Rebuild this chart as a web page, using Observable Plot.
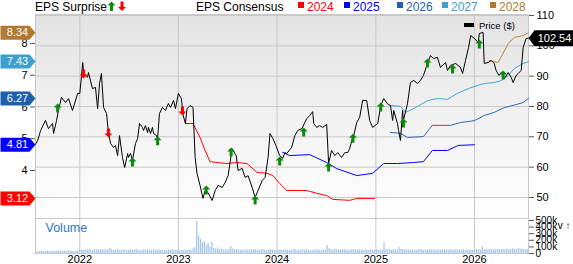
<!DOCTYPE html>
<html><head><meta charset="utf-8">
<script src="https://cdn.jsdelivr.net/npm/d3@7"></script>
<script src="https://cdn.jsdelivr.net/npm/@observablehq/plot@0.6"></script>
<style>
body{margin:0;background:#fff;font-family:"Liberation Sans",Arial,sans-serif;}
#wrap{position:relative;width:573px;height:264px;overflow:hidden;}
#main,#vol{position:absolute;left:0;}
#main{top:0}#vol{top:218px}
.hd{position:absolute;font-size:12px;line-height:14px;white-space:nowrap;top:0;}
.sq{position:absolute;width:6px;height:6px;top:2px;}
</style></head><body>
<div id="wrap">
<div id="main"></div><div id="vol"></div>
<div class="hd" style="left:35px;color:#000">EPS Surprise</div>
<svg style="position:absolute;left:107px;top:1px" width="20" height="11">
 <path d="M4.5,0.5 L8.5,4.5 L6,4.5 L6,10 L3,10 L3,4.5 L0.5,4.5Z" fill="#0a8a0a"/>
 <path d="M15,10 L19,6 L16.5,6 L16.5,0.5 L13.5,0.5 L13.5,6 L11,6Z" fill="#ff0000"/>
</svg>
<div class="hd" style="left:196px;color:#000">EPS Consensus</div>
<div id="legend"></div>
<div style="position:absolute;left:464px;top:23px;width:10px;height:4px;background:#000"></div>
<div style="position:absolute;left:479px;top:20px;font-size:9.5px;line-height:11px;color:#000">Price ($)</div>
</div>
<script>
// ---------- data ----------
const years = ["2022-01-01","2023-01-01","2024-01-01","2025-01-01","2026-01-01"];
const yearLabels = ["2022","2023","2024","2025","2026"];
const priceTicks = [50,60,70,80,90,100,110];
const epsTicks = [4,5,6,7,8];
const volTicks = [0,100000,200000,300000,400000,500000];

const price = [
["2021-07-21",67.5],["2021-07-29",68.8],["2021-08-09",72.1],["2021-08-27",75.4],["2021-09-07",72.7],["2021-09-22",74.4],["2021-09-26",71.1],["2021-10-07",75.4],["2021-10-14",78.7],["2021-10-25",83.0],["2021-11-09",81.3],["2021-11-20",82.6],["2021-12-05",78.7],["2021-12-24",84.3],
["2022-01-01",84.3],["2022-01-12",94.5],["2022-01-15",90.9],["2022-01-30",89.6],["2022-02-02",91.2],["2022-02-17",85.9],["2022-02-28",86.3],["2022-03-08",79.3],["2022-03-15",87.6],["2022-03-22",90.9],["2022-03-30",79.7],["2022-04-10",77.7],["2022-04-17",71.4],["2022-04-25",67.8],["2022-05-06",66.5],["2022-05-13",67.1],["2022-05-21",63.8],["2022-05-28",70.4],["2022-06-08",63.2],["2022-06-16",59.9],["2022-06-27",64.5],["2022-06-30",63.2],["2022-07-08",64.5],["2022-07-15",62.2],["2022-07-26",67.8],["2022-08-03",69.4],["2022-08-10",74.4],["2022-08-21",73.1],["2022-08-25",72.1],["2022-09-01",73.7],["2022-09-09",71.4],["2022-09-12",73.1],["2022-09-20",71.1],["2022-09-27",73.1],["2022-10-01",71.1],["2022-10-12",70.4],["2022-10-16",69.4],["2022-10-23",77.7],["2022-11-03",79.7],["2022-11-14",78.7],["2022-11-25",81.0],["2022-12-03",79.7],["2022-12-14",82.0],["2022-12-21",79.3],
["2023-01-01",84.3],["2023-01-12",82.6],["2023-01-19",77.0],["2023-01-27",74.4],["2023-02-02",79.3],["2023-02-13",80.3],["2023-02-24",79.7],["2023-03-04",63.2],["2023-03-11",57.9],["2023-03-22",54.0],["2023-04-02",49.7],["2023-04-10",52.3],["2023-04-21",51.6],["2023-05-06",49.0],["2023-05-17",52.3],["2023-05-28",54.0],["2023-06-12",53.3],["2023-06-23",54.9],["2023-07-04",57.2],["2023-07-19",66.1],["2023-07-22",65.5],["2023-08-03",63.8],["2023-08-10",58.9],["2023-08-25",59.6],["2023-09-05",56.6],["2023-09-16",57.2],["2023-10-01",53.3],["2023-10-12",50.0],["2023-10-23",52.3],["2023-11-07",55.6],["2023-11-18",56.6],["2023-11-29",63.2],["2023-12-06",71.1],["2023-12-17",69.4],["2023-12-28",67.1],
["2024-01-11",63.8],["2024-01-22",62.9],["2024-01-30",64.8],["2024-02-06",64.5],["2024-02-24",66.5],["2024-03-07",70.4],["2024-03-18",72.1],["2024-04-02",72.7],["2024-04-13",74.7],["2024-04-20",76.0],["2024-05-01",77.0],["2024-05-12",78.3],["2024-05-16",74.4],["2024-05-27",73.1],["2024-06-07",73.7],["2024-06-18",73.1],["2024-07-03",74.1],["2024-07-10",61.2],["2024-07-21",65.5],["2024-08-02",63.8],["2024-08-13",64.8],["2024-08-27",63.2],["2024-09-08",64.8],["2024-09-19",64.8],["2024-09-26",66.1],["2024-10-04",68.8],["2024-10-11",70.4],["2024-10-22",74.7],["2024-11-02",76.4],["2024-11-13",82.0],["2024-11-28",82.0],["2024-12-09",75.4],["2024-12-20",73.1],
["2025-01-08",74.4],["2025-01-19",80.3],["2025-01-30",82.6],["2025-02-13",80.9],["2025-02-24",80.3],["2025-03-04",75.4],["2025-03-08",78.7],["2025-03-22",74.4],["2025-03-26",72.1],["2025-04-02",68.8],["2025-04-10",78.7],["2025-04-13",75.4],["2025-04-28",80.9],["2025-05-09",87.9],["2025-05-21",88.6],["2025-06-04",87.6],["2025-06-15",88.6],["2025-06-26",90.2],["2025-07-11",94.2],["2025-07-22",96.8],["2025-08-02",95.8],["2025-08-17",96.2],["2025-08-28",92.9],["2025-09-16",94.5],["2025-09-23",91.9],["2025-10-04",93.5],["2025-10-23",94.2],["2025-11-10",92.9],["2025-11-18",90.9],["2025-11-29",95.2],["2025-12-10",99.4],["2025-12-18",103.4],
["2026-01-01",102.4],["2026-01-15",101.1],["2026-01-19",104.1],["2026-02-02",104.4],["2026-02-06",94.2],["2026-02-21",94.5],["2026-03-04",95.2],["2026-03-15",94.2],["2026-03-22",91.9],["2026-04-02",90.2],["2026-04-10",91.2],["2026-04-21",89.2],["2026-05-06",91.2],["2026-05-17",89.6],["2026-05-24",87.9],["2026-06-04",90.2],["2026-06-12",90.9],["2026-06-23",91.9],["2026-06-30",99.4],["2026-07-11",102.4],["2026-07-20",102.54]
];

const eps2024 = [["2023-01-27",5.48],["2023-02-24",5.48],["2023-03-22",5.04],["2023-04-10",4.63],["2023-04-28",4.28],["2023-05-24",4.25],["2023-06-30",4.22],["2023-08-06",4.25],["2023-09-12",4.22],["2023-10-19",3.94],["2023-11-25",3.91],["2023-12-17",3.84],["2024-01-11",3.59],["2024-02-06",3.37],["2024-03-14",3.37],["2024-04-20",3.37],["2024-05-27",3.28],["2024-07-03",3.21],["2024-07-25",3.09],["2024-09-26",3.06],["2024-10-22",3.12],["2024-12-28",3.12]];
const eps2025 = [["2024-01-22",4.57],["2024-02-17",4.47],["2024-05-01",4.50],["2024-07-03",4.25],["2024-08-09",4.06],["2024-10-22",3.84],["2024-12-20",3.91],["2025-01-30",4.22],["2025-03-22",4.22],["2025-05-21",4.25],["2025-06-26",4.28],["2025-07-29",4.63],["2025-09-23",4.63],["2025-11-02",4.79],["2026-01-01",4.81]];
const eps2026 = [["2025-02-24",5.20],["2025-04-02",5.17],["2025-04-28",5.04],["2025-06-26",5.07],["2025-07-29",5.42],["2025-10-04",5.42],["2025-11-10",5.51],["2026-01-01",5.57],["2026-02-06",5.73],["2026-03-15",5.83],["2026-04-21",5.98],["2026-05-24",6.05],["2026-06-30",6.14],["2026-07-20",6.27]];
const eps2027 = [["2025-02-24",6.05],["2025-04-02",6.02],["2025-04-21",5.83],["2025-05-21",5.95],["2025-07-11",6.20],["2025-08-17",6.27],["2025-09-23",6.24],["2025-10-30",6.43],["2025-12-18",6.61],["2026-02-06",6.74],["2026-03-15",6.77],["2026-04-10",6.83],["2026-05-06",6.99],["2026-05-28",7.21],["2026-06-30",7.37],["2026-07-20",7.43]];
const eps2028 = [["2026-02-25",7.46],["2026-03-29",7.40],["2026-04-17",7.69],["2026-05-06",8.00],["2026-05-28",8.19],["2026-06-30",8.25],["2026-07-20",8.34]];

const seriesNames = ["2024","2025","2026","2027","2028"];
const seriesColors = ["#ff0000","#0000ff","#2d6ab4","#45a6d8","#b8843c"];
const labelColors = ["#ff0000","#0000ff","#1f5fad","#3aa0d0","#b07a30"];
const labelValues = [3.12,4.81,6.27,7.43,8.34];
const lastPrice = 102.54;

// surprise arrows: [date, price level, 1=beat (up), -1=miss (down)]
const surprises = [["2021-10-11",79.3,1],["2022-01-15",90.9,-1],["2022-04-17",71.4,-1],["2022-07-15",61.5,1],["2022-10-16",68.5,1],["2023-01-16",78.7,-1],["2023-04-14",52.3,1],["2023-07-15",64.8,1],["2023-10-12",49.0,1],["2024-01-11",61.9,1],["2024-04-09",71.4,1],["2024-07-10",59.9,1],["2024-10-08",69.4,1],["2025-01-19",79.7,1],["2025-04-13",74.4,1],["2025-07-11",94.2,1],["2025-10-12",92.2,1],["2026-01-19",100.4,1],["2026-04-17",90.2,1]];

// weekly volume (thousands), from week of 2021-07-23
const volStart = "2021-07-23";
const volume = [
32,28,35,30,27,33,38,30,29,34,31,36,40,33,30,37,35,42,38,34,31,29,36,45,
48,52,45,55,60,50,47,58,53,49,62,55,51,48,57,78,60,52,49,55,46,50,58,52,47,44,56,49,53,60,51,47,45,52,48,55,50,46,53,49,58,51,47,44,50,46,52,48,55,43,47,40,
42,45,40,55,48,52,46,70,90,485,270,210,160,180,120,150,95,165,80,70,85,60,65,55,58,50,62,105,70,55,60,52,48,55,50,47,58,52,49,60,55,50,53,48,62,50,45,55,58,50,46,40,
50,55,48,52,58,45,50,47,53,60,49,46,52,55,48,62,50,47,45,52,49,55,46,50,48,53,120,75,58,52,60,55,48,50,62,58,52,47,50,55,60,53,49,57,51,48,55,50,46,52,48,44,
55,50,52,48,165,58,62,55,50,60,52,55,90,62,58,55,50,52,48,55,50,47,53,60,55,50,52,48,55,58,50,53,49,55,52,58,50,53,48,55,52,50,53,57,49,52,55,50,48,53,50,46,
55,60,58,52,105,62,58,55,60,57,52,55,65,58,62,55,60,68,58,62,70,65,60,72,68,70,62,58,55
];

// ---------- build ----------
const P = d => new Date(d);
const xDomain = [P("2021-07-21"), P("2026-07-20")];
// the EPS axis (left) and price axis (right) share the vertical: eps 8 <-> price 100.77, eps 4 <-> price 58.90
const epsToPrice = v => 58.90 + (v - 4) * (100.77 - 58.90) / 4;
const priceToEps = p => 4 + (p - 58.90) * 4 / (100.77 - 58.90);

const FONT = "Liberation Sans, Arial, sans-serif";
const tagRight = {draw(c){c.moveTo(-35,-7);c.lineTo(-6,-7);c.lineTo(0,0);c.lineTo(-6,7);c.lineTo(-35,7);c.closePath();}};
const tagLeft = {draw(c){c.moveTo(0,0);c.lineTo(6,-8);c.lineTo(46,-8);c.lineTo(46,8);c.lineTo(6,8);c.closePath();}};
const arrowUp = {draw(c){c.moveTo(0,-5);c.lineTo(4,-1);c.lineTo(1.5,-1);c.lineTo(1.5,4);c.lineTo(-1.5,4);c.lineTo(-1.5,-1);c.lineTo(-4,-1);c.closePath();}};
const arrowDown = {draw(c){c.moveTo(0,5);c.lineTo(4,1);c.lineTo(1.5,1);c.lineTo(1.5,-4);c.lineTo(-1.5,-4);c.lineTo(-1.5,1);c.lineTo(-4,1);c.closePath();}};

const epsSeries = [eps2024,eps2025,eps2026,eps2027,eps2028];
const yearDates = years.map(P);

const main = Plot.plot({
  width: 573, height: 218,
  marginTop: 14, marginBottom: 0, marginLeft: 35, marginRight: 45,
  style: {fontFamily: FONT, fontSize: "11px", background: "transparent", overflow: "visible", color: "#000"},
  x: {type: "utc", domain: xDomain, axis: null},
  y: {domain: [43.07, 110.33], axis: null},
  marks: [
    Plot.gridY(priceTicks, {stroke: "#c8c8c8", strokeOpacity: 1}),
    Plot.gridX(yearDates, {stroke: "#c8c8c8", strokeOpacity: 1}),
    Plot.frame({stroke: "#c8c8c8"}),
    ...epsSeries.map((s, i) => Plot.line(s, {x: d => P(d[0]), y: d => epsToPrice(d[1]), stroke: seriesColors[i], strokeWidth: 1})),
    Plot.line(price, {x: d => P(d[0]), y: d => d[1], stroke: "#000", strokeWidth: 1}),
    Plot.dot(surprises.filter(d => d[2] > 0), {x: d => P(d[0]), y: d => d[1], symbol: arrowUp, fill: "#0a8a0a", stroke: null, r: 4}),
    Plot.dot(surprises.filter(d => d[2] < 0), {x: d => P(d[0]), y: d => d[1], symbol: arrowDown, fill: "#ff0000", stroke: null, r: 4}),
    Plot.axisY(priceTicks, {anchor: "right", tickSize: 5, tickPadding: 3, stroke: "#555", fontSize: 11}),
    Plot.axisY(epsTicks.map(epsToPrice), {anchor: "left", tickSize: 5, tickPadding: 3, stroke: "#555", fontSize: 11, tickFormat: p => String(Math.round(priceToEps(p)))}),
    ...labelValues.map((v, i) => Plot.dot([v], {frameAnchor: "left", y: d => epsToPrice(d), symbol: tagRight, fill: labelColors[i], stroke: null, r: 5})),
    ...labelValues.map((v, i) => Plot.text([v], {frameAnchor: "left", y: d => epsToPrice(d), text: d => d.toFixed(2), dx: -18, textAnchor: "middle", fill: "#fff", fontSize: 11})),
    Plot.dot([lastPrice], {frameAnchor: "right", y: d => d, symbol: tagLeft, fill: "#000", stroke: null, r: 5}),
    Plot.text([lastPrice], {frameAnchor: "right", y: d => d, text: d => d.toFixed(2), dx: 26, textAnchor: "middle", fill: "#fff", fontSize: 11})
  ]
});

// gradient background behind the price panel
(function(){
  const svg = d3.select(main);
  const xr = main.scale("x").range, yr = main.scale("y").range;
  const defs = svg.insert("defs", ":first-child");
  const g = defs.append("linearGradient").attr("id", "bgGrad").attr("x1", 0).attr("y1", 0).attr("x2", 0).attr("y2", 1);
  g.append("stop").attr("offset", 0).attr("stop-color", "#e3e3e3");
  g.append("stop").attr("offset", 1).attr("stop-color", "#ffffff");
  svg.insert("rect", "g").attr("x", Math.min(...xr)).attr("y", Math.min(...yr))
    .attr("width", Math.abs(xr[1]-xr[0])).attr("height", Math.abs(yr[1]-yr[0])).attr("fill", "url(#bgGrad)");
})();
document.getElementById("main").appendChild(main);

const vol = volume.map((v, i) => ({date: d3.utcWeek.offset(P(volStart), i), v: v * 1000}));
const volPlot = Plot.plot({
  width: 573, height: 46,
  marginTop: 0, marginBottom: 11, marginLeft: 35, marginRight: 45,
  style: {fontFamily: FONT, fontSize: "11px", background: "transparent", overflow: "visible", color: "#000"},
  x: {type: "utc", domain: xDomain, axis: null},
  y: {domain: [0, 530000], axis: null},
  marks: [
    Plot.gridX(yearDates, {stroke: "#c8c8c8", strokeOpacity: 1}),
    Plot.ruleX(vol, {x: "date", y1: 0, y2: "v", stroke: "#9fc4e8", strokeWidth: 1.2}),
    Plot.frame({stroke: "#c8c8c8"}),
    Plot.axisY(volTicks, {anchor: "right", tickSize: 5, tickPadding: 2, stroke: "#555", fontSize: 10, tickFormat: d => d === 0 ? "0" : (d / 1000) + "k"}),
    Plot.axisX(yearDates, {anchor: "bottom", tickSize: 0, tickPadding: 2, fontSize: 11, tickFormat: (d) => yearLabels[yearDates.findIndex(y => +y === +d)]}),
    Plot.text(["Volume"], {frameAnchor: "top-left", dx: 10, dy: 5, lineAnchor: "top", textAnchor: "start", fill: "#2a7ac0", fontSize: 12.5})
  ]
});
document.getElementById("vol").appendChild(volPlot);

// header legend for consensus years
const leg = document.getElementById("legend");
const legX = [298, 344, 397, 442, 490];
seriesNames.forEach((n, i) => {
  const sq = document.createElement("div");
  sq.className = "sq"; sq.style.left = legX[i] + "px"; sq.style.background = labelColors[i];
  leg.appendChild(sq);
  const t = document.createElement("div");
  t.className = "hd"; t.style.left = (legX[i] + 9) + "px"; t.style.color = labelColors[i]; t.textContent = n;
  leg.appendChild(t);
});
</script>
</body></html>
